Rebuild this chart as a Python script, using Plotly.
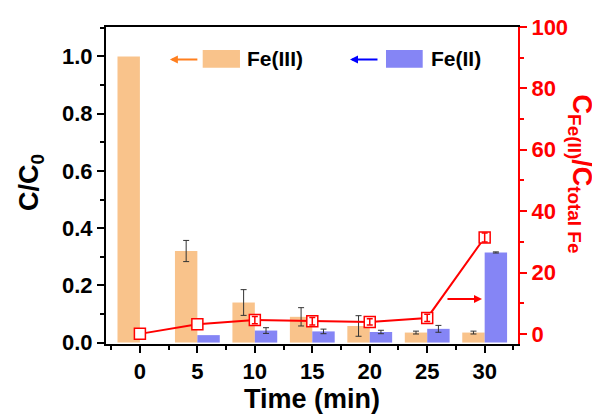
import plotly.graph_objects as go

time = [0, 5, 10, 15, 20, 25, 30]
fe3 = [1.0, 0.32, 0.14, 0.09, 0.058, 0.035, 0.035]
fe3_err = [None, 0.037, 0.045, 0.032, 0.036, 0.005, 0.005]
fe2 = [None, 0.026, 0.042, 0.039, 0.037, 0.048, 0.315]
fe2_err = [None, None, 0.01, 0.008, 0.006, 0.012, 0.002]
ratio = [0.0, 3.1, 4.5, 4.1, 3.9, 5.2, 31.4]
ratio_err = [None, None, 1.2, 1.2, 1.0, 1.2, 1.5]

ORANGE = "#F9C38B"
BLUE = "#8585F5"
RED = "#FF0000"
FONT = "Liberation Sans"
BAR_W = 1.95


def with_err(xs, ys, es, shift=0.0):
    pts = [(x + shift, y, e) for x, y, e in zip(xs, ys, es) if e is not None and y is not None]
    return [p[0] for p in pts], [p[1] for p in pts], [p[2] for p in pts]


fig = go.Figure()
fig.add_trace(go.Bar(
    x=time, y=fe3, width=BAR_W, offset=-BAR_W, marker=dict(color=ORANGE, line=dict(width=0)),
    showlegend=False, name="Fe(III)"))
fig.add_trace(go.Bar(
    x=time, y=fe2, width=BAR_W, offset=0.0, marker=dict(color=BLUE, line=dict(width=0)),
    showlegend=False, name="Fe(II)"))

ex, ey, ee = with_err(time, fe3, fe3_err, -BAR_W / 2)
fig.add_trace(go.Scatter(x=ex, y=ey, mode="markers", marker=dict(size=1, color="rgba(0,0,0,0)"),
                         error_y=dict(type="data", array=ee, color="#333333", thickness=1, width=3),
                         showlegend=False, hoverinfo="skip"))
ex, ey, ee = with_err(time, fe2, fe2_err, BAR_W / 2)
fig.add_trace(go.Scatter(x=ex, y=ey, mode="markers", marker=dict(size=1, color="rgba(0,0,0,0)"),
                         error_y=dict(type="data", array=ee, color="#333333", thickness=1, width=3),
                         showlegend=False, hoverinfo="skip"))

fig.add_trace(go.Scatter(
    x=time, y=ratio, yaxis="y2", mode="lines+markers",
    line=dict(color=RED, width=2),
    marker=dict(symbol="square", size=11, color="white", line=dict(color=RED, width=1.5)),
    showlegend=False))
ex, ey, ee = with_err(time, ratio, ratio_err)
fig.add_trace(go.Scatter(
    x=ex, y=ey, yaxis="y2", mode="markers",
    marker=dict(size=1, color="rgba(0,0,0,0)"),
    error_y=dict(type="data", array=ee, color=RED, thickness=1.5, width=3),
    showlegend=False, hoverinfo="skip"))

# The page body has an 8px margin; the figure is sized so the plot lands where the reference has it.
tickfont = dict(family=FONT, size=22, color="black", weight="bold")
fig.update_layout(
    width=592, height=408,
    margin=dict(l=98, r=82, t=19, b=72),
    paper_bgcolor="white", plot_bgcolor="white",
    barmode="overlay",
    xaxis=dict(range=[-2.95, 32.9], tickvals=time, ticks="outside", ticklen=7, tickwidth=2,
               tickcolor="black", showline=True, linecolor="black", linewidth=2, mirror=True,
               showgrid=False, zeroline=False, tickfont=tickfont, automargin=False,
               minor=dict(ticks="outside", ticklen=4, tickwidth=2, dtick=2.5, tick0=0, tickcolor="black")),
    yaxis=dict(range=[-0.005, 1.103], dtick=0.2, tickformat=".1f", ticks="outside", ticklen=7,
               tickwidth=2, tickcolor="black", showline=True, linecolor="black", linewidth=2,
               showgrid=False, zeroline=False, tickfont=tickfont, automargin=False,
               minor=dict(ticks="outside", ticklen=4, tickwidth=2, dtick=0.1, tick0=0, tickcolor="black")),
    yaxis2=dict(range=[-3.3, 100], dtick=20, overlaying="y", side="right", ticks="outside",
                ticklen=7, tickwidth=2, tickcolor=RED, showline=True, linecolor=RED, linewidth=2,
                showgrid=False, zeroline=False, automargin=False,
                tickfont=dict(family=FONT, size=22, color=RED, weight="bold"),
                minor=dict(ticks="outside", ticklen=4, tickwidth=2, dtick=10, tick0=0, tickcolor=RED)),
)

# Axis titles
fig.add_annotation(text="<b>Time (min)</b>", xref="paper", yref="paper", x=0.501, y=-0.1735,
                   xanchor="center", yanchor="middle", showarrow=False,
                   font=dict(family=FONT, size=27, color="black"))
fig.add_annotation(text="<b>C/C<sub>0</sub></b>", xref="paper", yref="paper", x=-0.182, y=0.508,
                   xanchor="center", yanchor="middle", showarrow=False, textangle=-90,
                   font=dict(family=FONT, size=27, color="black"))
fig.add_annotation(text="<b>C<sub>Fe(II)</sub>/C<sub>total Fe</sub></b>", xref="paper", yref="paper",
                   x=1.15, y=0.535, xanchor="center", yanchor="middle", showarrow=False, textangle=90,
                   font=dict(family=FONT, size=27, color=RED))

# Legend (manual)
fig.add_shape(type="rect", xref="paper", yref="paper", x0=0.2347, x1=0.3252, y0=0.8716, y1=0.9274,
              fillcolor=ORANGE, line=dict(width=0))
fig.add_shape(type="rect", xref="paper", yref="paper", x0=0.6796, x1=0.7687, y0=0.8716, y1=0.9274,
              fillcolor=BLUE, line=dict(width=0))
fig.add_annotation(text="<b>Fe(III)</b>", xref="paper", yref="paper", x=0.337, y=0.8995,
                   xanchor="left", yanchor="middle", showarrow=False,
                   font=dict(family=FONT, size=21, color="black"))
fig.add_annotation(text="<b>Fe(II)</b>", xref="paper", yref="paper", x=0.7845, y=0.8995,
                   xanchor="left", yanchor="middle", showarrow=False,
                   font=dict(family=FONT, size=21, color="black"))

# Arrows
fig.add_annotation(xref="paper", yref="paper", x=0.155, y=0.8975, ax=29, ay=0, text="",
                   showarrow=True, arrowcolor="#FF7F1E", arrowwidth=2, arrowhead=2, arrowsize=0.8)
fig.add_annotation(xref="paper", yref="paper", x=0.5922, y=0.8975, ax=29, ay=0, text="",
                   showarrow=True, arrowcolor="#0000FF", arrowwidth=2, arrowhead=2, arrowsize=0.8)
fig.add_annotation(xref="paper", yref="paper", x=0.9126, y=0.142, ax=-36, ay=0, text="",
                   showarrow=True, arrowcolor=RED, arrowwidth=2, arrowhead=2, arrowsize=0.8)

fig.write_html("out.html")
